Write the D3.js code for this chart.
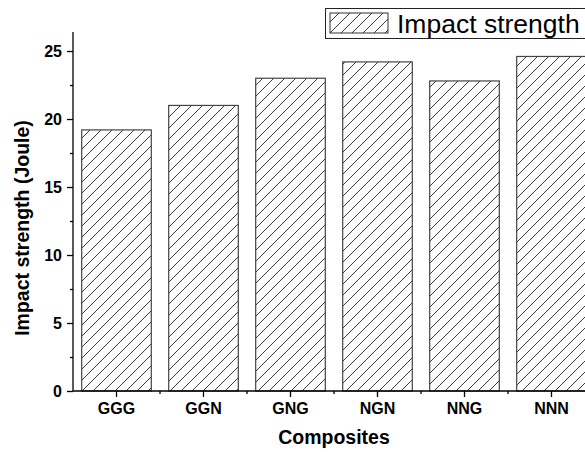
<!DOCTYPE html>
<html>
<head>
<meta charset="utf-8">
<script src="https://cdn.jsdelivr.net/npm/d3@7"></script>
<style>
  body { margin: 0; background: #fff; }
  svg { display: block; font-family: "Liberation Sans", Arial, sans-serif; }
  .axis path, .axis line { stroke: #000; stroke-width: 1.3; }
  .axis text { font-weight: bold; font-size: 16px; fill: #000; }
  .axis-title { font-weight: bold; font-size: 19.5px; fill: #000; }
</style>
</head>
<body>
<script>
const composites = ["GGG", "GGN", "GNG", "NGN", "NNG", "NNN"];
const impactStrength = [19.2, 21.0, 23.0, 24.2, 22.8, 24.6];
const yTicks = [0, 5, 10, 15, 20, 25];
const yMinorTicks = [2.5, 7.5, 12.5, 17.5, 22.5];

const width = 585, height = 452;
let margin = {left: 73, top: 32, bottom: 61};
let plotBottom = height - margin.bottom;

let svg = d3.select("body").append("svg")
    .attr("width", width)
    .attr("height", height);

let defs = svg.append("defs");
let hatch = defs.append("pattern")
    .attr("id", "hatch")
    .attr("patternUnits", "userSpaceOnUse")
    .attr("width", 11)
    .attr("height", 11);
hatch.append("path")
    .attr("d", "M0,11 L11,0 M-2.75,2.75 L2.75,-2.75 M8.25,13.75 L13.75,8.25")
    .attr("stroke", "#222")
    .attr("stroke-width", 0.9);

let xScale = d3.scaleBand()
    .domain(composites)
    .range([margin.left, margin.left + 87 * composites.length])
    .paddingInner(0.2)
    .paddingOuter(0.1);

let yScale = d3.scaleLinear()
    .domain([0, 26.4])
    .range([plotBottom, margin.top]);

// bars
svg.append("g")
    .selectAll(".bar")
    .data(composites)
    .enter()
    .append("rect")
        .classed("bar", true)
        .attr("x", d => xScale(d))
        .attr("y", (d, i) => yScale(impactStrength[i]))
        .attr("width", xScale.bandwidth())
        .attr("height", (d, i) => plotBottom - yScale(impactStrength[i]))
        .attr("fill", "url(#hatch)")
        .attr("stroke", "#444")
        .attr("stroke-width", 1.2);

// y axis
let yAxis = d3.axisLeft(yScale).tickValues(yTicks).tickSize(6).tickSizeOuter(0).tickPadding(5);
let yG = svg.append("g")
    .classed("axis", true)
    .attr("transform", "translate(" + margin.left + ",0)")
    .call(yAxis);
yG.select(".domain").attr("d", "M0," + margin.top + "V" + plotBottom);
svg.append("g")
    .classed("axis", true)
    .attr("transform", "translate(" + margin.left + ",0)")
    .call(d3.axisLeft(yScale).tickValues(yMinorTicks).tickSize(3).tickFormat(""))
    .select(".domain").remove();

// x axis
let step = xScale.step();
let xAxis = d3.axisBottom(xScale).tickSize(6).tickSizeOuter(0).tickPadding(6);
let xG = svg.append("g")
    .classed("axis", true)
    .attr("transform", "translate(0," + plotBottom + ")")
    .call(xAxis);
xG.select(".domain").attr("d", "M" + margin.left + ",0H" + width);
let boundaries = composites.slice(1).map(d => xScale(d) - (step - xScale.bandwidth()) / 2);
xG.selectAll(".minor")
    .data(boundaries)
    .enter()
    .append("line")
        .classed("minor", true)
        .attr("x1", d => d).attr("x2", d => d)
        .attr("y1", 0).attr("y2", 3);

// axis titles
svg.append("text")
    .classed("axis-title", true)
    .attr("text-anchor", "middle")
    .attr("transform", "translate(29,228) rotate(-90)")
    .text("Impact strength (Joule)");
svg.append("text")
    .classed("axis-title", true)
    .attr("text-anchor", "middle")
    .attr("x", 334)
    .attr("y", 444)
    .text("Composites");

// legend
let legend = svg.append("g");
legend.append("rect")
    .attr("x", 325.5).attr("y", 8.5)
    .attr("width", 280).attr("height", 30)
    .attr("fill", "#fff").attr("stroke", "#222").attr("stroke-width", 1);
legend.append("rect")
    .attr("x", 330).attr("y", 13)
    .attr("width", 58).attr("height", 20)
    .attr("fill", "url(#hatch)").attr("stroke", "#333").attr("stroke-width", 1);
legend.append("text")
    .attr("x", 397).attr("y", 33)
    .attr("font-size", "26.5px")
    .attr("fill", "#000")
    .text("Impact strength");
</script>
</body>
</html>
